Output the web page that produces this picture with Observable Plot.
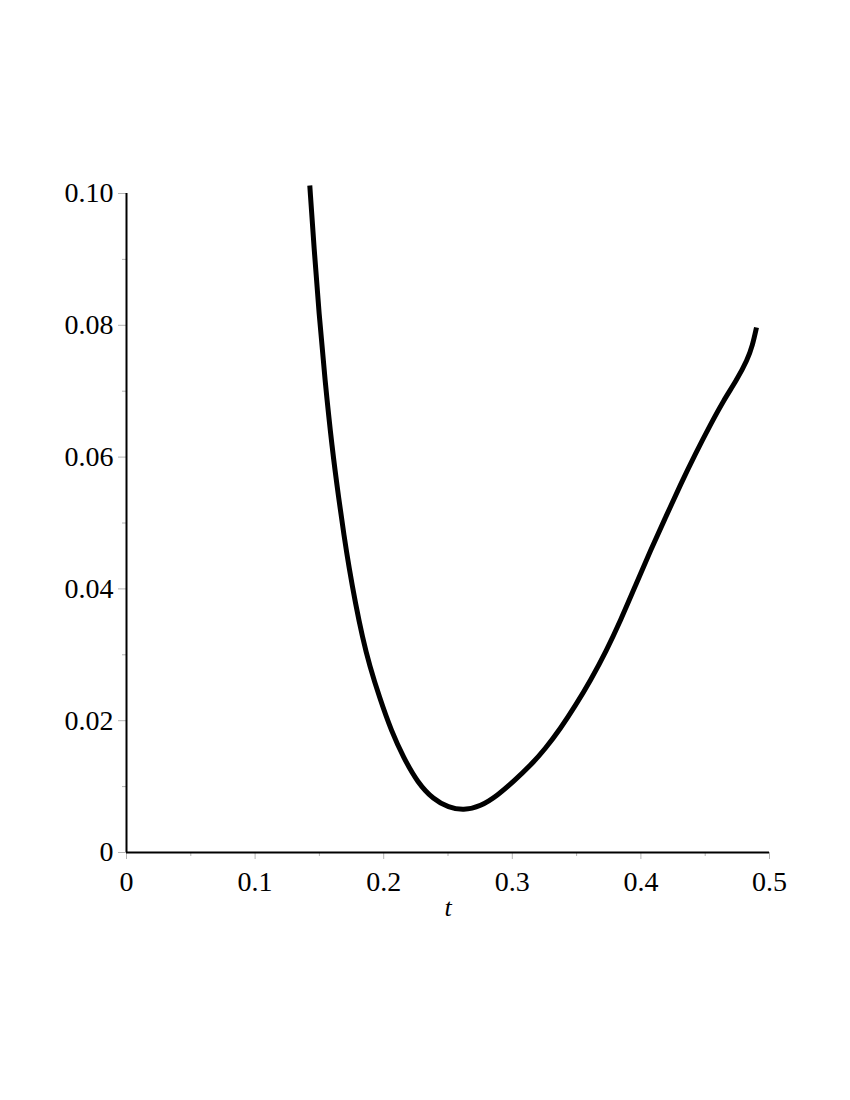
<!DOCTYPE html>
<html><head><meta charset="utf-8">
<script src="https://cdn.jsdelivr.net/npm/d3@7"></script>
<script src="https://cdn.jsdelivr.net/npm/@observablehq/plot@0.6"></script>
<style>body{margin:0;background:#fff}</style>
</head><body><div id="chart"></div>
<script>
const tValues = [0.14253, 0.14580, 0.14969, 0.15435, 0.15980, 0.16524, 0.16913, 0.17302, 0.17807, 0.18351, 0.18896, 0.19673, 0.20607, 0.21540, 0.22628, 0.23872, 0.25039, 0.26205,
  0.27527, 0.28849, 0.30093, 0.31415, 0.32582, 0.33748, 0.34914, 0.36081, 0.37325, 0.38414, 0.39580, 0.40747, 0.41913, 0.43079, 0.44246, 0.45412, 0.46423, 0.47434, 0.48289, 0.48678, 0.48989];
const yValues = [0.10121, 0.09181, 0.08179, 0.07162, 0.06146, 0.05341, 0.04810, 0.04325, 0.03778, 0.03263, 0.02838, 0.02352, 0.01836, 0.01442, 0.01062, 0.00804, 0.00683, 0.00637,
  0.00698, 0.00865, 0.01077, 0.01320, 0.01578, 0.01882, 0.02231, 0.02610, 0.03065, 0.03520, 0.04052, 0.04583, 0.05083, 0.05584, 0.06055, 0.06495, 0.06859, 0.07162, 0.07481, 0.07693, 0.07967];
const xTicks = [0, 0.1, 0.2, 0.3, 0.4, 0.5];
const xTickLabels = ["0", "0.1", "0.2", "0.3", "0.4", "0.5"];
const xMinorTicks = [0.05, 0.15, 0.25, 0.35, 0.45];
const yTicks = [0, 0.02, 0.04, 0.06, 0.08, 0.10];
const yTickLabels = ["0", "0.02", "0.04", "0.06", "0.08", "0.10"];
const yMinorTicks = [0.01, 0.03, 0.05, 0.07, 0.09];
const xLabel = "t";

const data = tValues.map((t, i) => ({t, y: yValues[i]}));
const tickGray = "#b4b4b4";
const fs = 28;
const chart = Plot.plot({
  width: 850, height: 1100,
  marginLeft: 126, marginRight: 81, marginTop: 193, marginBottom: 248,
  style: {fontFamily: "'Liberation Serif', 'Times New Roman', serif", fontSize: "28px", background: "white", color: "black"},
  x: {domain: [0, 0.5]},
  y: {domain: [0, 0.1]},
  marks: [
    Plot.axisX(xMinorTicks, {tickSize: 4, tickFormat: () => "", label: null, stroke: tickGray}),
    Plot.axisX(xTicks, {tickSize: 7, tickPadding: 12, fontSize: fs, tickFormat: d => xTickLabels[xTicks.indexOf(d)], label: null, stroke: tickGray, fill: "black"}),
    Plot.axisY(yMinorTicks, {tickSize: 4, tickFormat: () => "", label: null, stroke: tickGray}),
    Plot.axisY(yTicks, {tickSize: 8, tickPadding: 5, fontSize: fs, tickFormat: d => yTickLabels[yTicks.indexOf(d)], label: null, stroke: tickGray, fill: "black"}),
    Plot.ruleX([0], {stroke: "black", strokeWidth: 2}),
    Plot.ruleY([0], {stroke: "black", strokeWidth: 2}),
    Plot.line(data, {x: "t", y: "y", curve: "basis", stroke: "black", strokeWidth: 5, strokeLinecap: "butt"}),
    Plot.text([xLabel], {frameAnchor: "bottom", dy: 63, fontStyle: "italic", fontSize: 26, fill: "black"})
  ]
});
document.getElementById("chart").appendChild(chart);
</script>
</body></html>
